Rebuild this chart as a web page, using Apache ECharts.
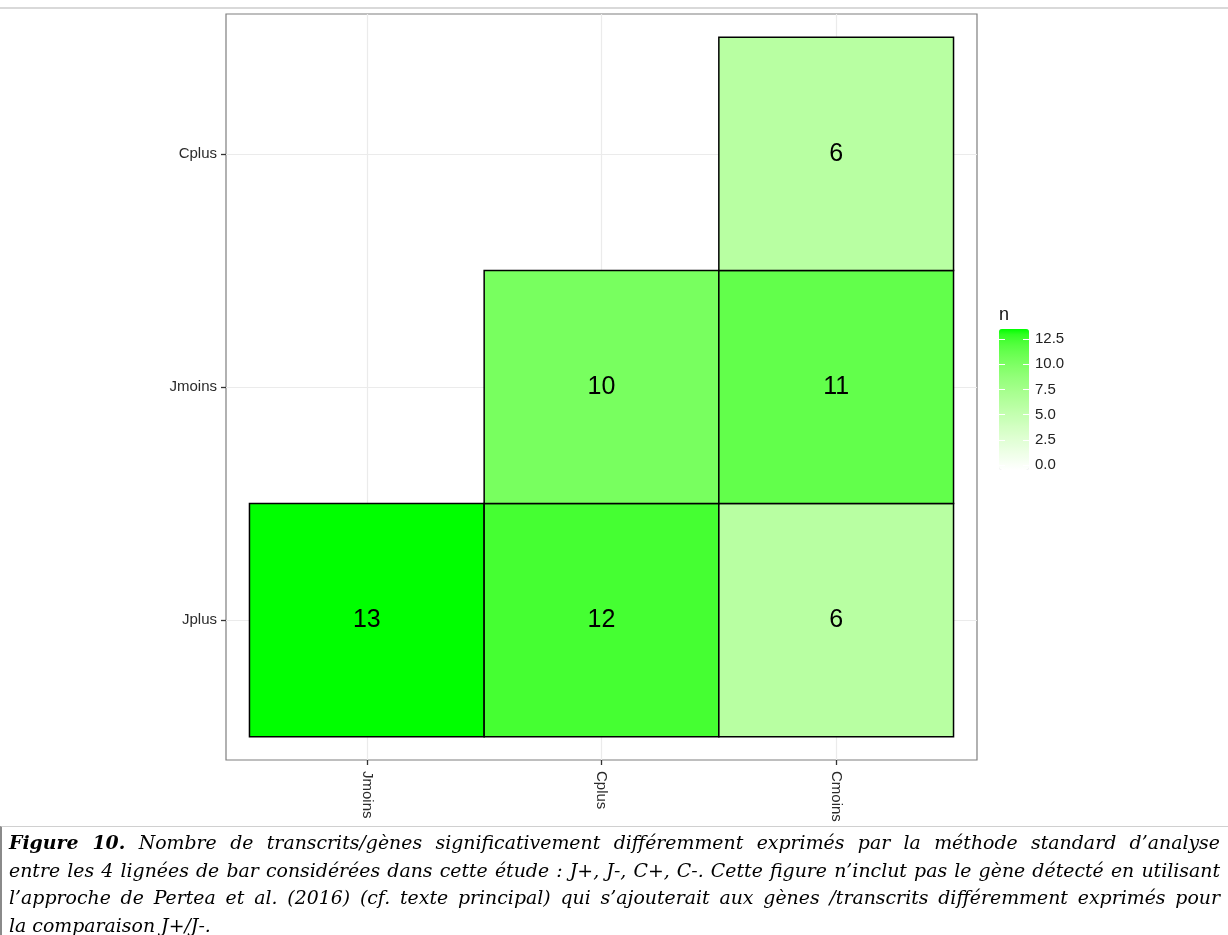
<!DOCTYPE html>
<html>
<head>
<meta charset="utf-8">
<script src="https://cdn.jsdelivr.net/npm/echarts@6/dist/echarts.min.js"></script>
<style>
html,body{margin:0;padding:0;background:#fff;}
#wrap{position:relative;width:1228px;height:935px;overflow:hidden;}
#topline{position:absolute;left:0;top:7px;width:1228px;height:2px;background:#d9d9d9;}
#chart{position:absolute;left:0;top:0;width:1228px;height:830px;}
#cap{position:absolute;left:0;top:826px;width:1228px;height:109px;border-top:1px solid #d0d0d0;border-left:2px solid #8a8a8a;box-sizing:border-box;}
#captext{position:absolute;left:7px;top:2px;width:1211px;font-family:"DejaVu Serif",serif;font-style:italic;font-size:18.9px;line-height:27.7px;color:#000;}
.l{display:block;text-align:justify;text-align-last:justify;white-space:nowrap;}
.last{display:block;text-align:left;white-space:nowrap;}
</style>
</head>
<body>
<div id="wrap">
<div id="chart"></div>
<div id="topline"></div>
<div id="cap"><div id="captext">
<span class="l"><b>Figure 10.</b> Nombre de transcrits/gènes significativement différemment exprimés par la méthode standard d’analyse</span>
<span class="l">entre les 4 lignées de bar considérées dans cette étude : J+, J-, C+, C-. Cette figure n’inclut pas le gène détecté en utilisant</span>
<span class="l">l’approche de Pertea et al. (2016) (cf. texte principal) qui s’ajouterait aux gènes /transcrits différemment exprimés pour</span>
<span class="last">la comparaison J+/J-.</span>
</div></div>
</div>
<script>
// ---- data ----
const xCats = ['Jmoins', 'Cplus', 'Cmoins'];
const yCats = ['Jplus', 'Jmoins', 'Cplus'];
const tileX = ['Jmoins', 'Cplus', 'Cmoins', 'Cplus', 'Cmoins', 'Cmoins'];
const tileY = ['Jplus', 'Jplus', 'Jplus', 'Jmoins', 'Jmoins', 'Cplus'];
const tileN = [13, 12, 6, 10, 11, 6];
const legendTicks = [0, 2.5, 5, 7.5, 10, 12.5];
const scaleMin = 0, scaleMax = 13;

// ---- Lab colour interpolation (white -> green), like ggplot2 gradient ----
function lab2hex(L, a, b) {
  const fy = (L + 16) / 116, fx = fy + a / 500, fz = fy - b / 200;
  const finv = t => (t > 6 / 29 ? t * t * t : 3 * (6 / 29) * (6 / 29) * (t - 4 / 29));
  const X = 0.95047 * finv(fx), Y = finv(fy), Z = 1.08883 * finv(fz);
  let r = 3.2406 * X - 1.5372 * Y - 0.4986 * Z;
  let g = -0.9689 * X + 1.8758 * Y + 0.0415 * Z;
  let bl = 0.0557 * X - 0.2040 * Y + 1.0570 * Z;
  const gam = c => { c = Math.min(1, Math.max(0, c)); return c <= 0.0031308 ? 12.92 * c : 1.055 * Math.pow(c, 1 / 2.4) - 0.055; };
  return '#' + [r, g, bl].map(c => Math.round(gam(c) * 255).toString(16).padStart(2, '0')).join('');
}
const lowLab = [100, 0, 0], highLab = [87.735, -86.183, 83.179];
const stops = [];
for (let i = 0; i <= 26; i++) {
  const t = i / 26;
  stops.push(lab2hex(lowLab[0] + (highLab[0] - lowLab[0]) * t, lowLab[1] + (highLab[1] - lowLab[1]) * t, lowLab[2] + (highLab[2] - lowLab[2]) * t));
}

const tileData = tileN.map((n, i) => [xCats.indexOf(tileX[i]) + 1, yCats.indexOf(tileY[i]) + 1, n]);
const pos = [1, 2, 3];
const axisFont = { fontFamily: 'Liberation Sans', fontSize: 15, color: '#2b2b2b' };

const chart = echarts.init(document.getElementById('chart'), null, { renderer: 'canvas' });
chart.setOption({
  animation: false,
  backgroundColor: '#fff',
  grid: [
    { left: 226, top: 14, width: 751, height: 746, show: true, borderColor: '#7f7f7f', borderWidth: 1.2, backgroundColor: 'transparent' },
    { left: 999, top: 334, width: 30, height: 131, show: false }
  ],
  xAxis: [
    {
      type: 'value', gridIndex: 0, min: 0.4, max: 3.6,
      axisLine: { show: false },
      axisTick: { show: true, customValues: pos, length: 5, lineStyle: { color: '#333', width: 1.3 } },
      splitLine: { show: true, lineStyle: { color: '#ebebeb', width: 1.2 } },
      axisLabel: Object.assign({ customValues: pos, rotate: -90, margin: 11, formatter: v => xCats[Math.round(v) - 1] || '' }, axisFont)
    },
    { type: 'value', gridIndex: 1, show: false, min: 0, max: 1 }
  ],
  yAxis: [
    {
      type: 'value', gridIndex: 0, min: 0.4, max: 3.6,
      axisLine: { show: false },
      axisTick: { show: true, customValues: pos, length: 5, lineStyle: { color: '#333', width: 1.3 } },
      splitLine: { show: true, lineStyle: { color: '#ebebeb', width: 1.2 } },
      axisLabel: Object.assign({ customValues: pos, margin: 9, formatter: v => yCats[Math.round(v) - 1] || '' }, axisFont)
    },
    {
      type: 'value', gridIndex: 1, position: 'left', min: scaleMin, max: scaleMax, z: 10,
      axisLine: { show: false }, splitLine: { show: false },
      axisTick: { show: true, inside: true, length: 6, customValues: legendTicks, lineStyle: { color: '#fff', width: 1 } },
      axisLabel: { show: false, customValues: legendTicks }
    },
    {
      type: 'value', gridIndex: 1, position: 'right', min: scaleMin, max: scaleMax, z: 10,
      axisLine: { show: false }, splitLine: { show: false },
      axisTick: { show: true, inside: true, length: 6, customValues: legendTicks, lineStyle: { color: '#fff', width: 1 } },
      axisLabel: { show: true, customValues: legendTicks, margin: 6, formatter: v => v.toFixed(1), fontFamily: 'Liberation Sans', fontSize: 15, color: '#222' }
    }
  ],
  visualMap: {
    type: 'continuous', min: scaleMin, max: scaleMax, dimension: 2, seriesIndex: 0,
    left: 999, top: 329, padding: 0, itemWidth: 30, itemHeight: 141, calculable: false, showLabel: false,
    text: null, hoverLink: false, z: 1,
    inRange: { color: stops }
  },
  graphic: [
    { type: 'text', left: 999, top: 306, style: { text: 'n', fontFamily: 'Liberation Sans', fontSize: 18, fill: '#111' } }
  ],
  series: [
    {
      type: 'custom', xAxisIndex: 0, yAxisIndex: 0, data: tileData,
      renderItem: function (params, api) {
        const x = api.value(0), y = api.value(1);
        const p0 = api.coord([x - 0.5, y + 0.5]);
        const p1 = api.coord([x + 0.5, y - 0.5]);
        return {
          type: 'group',
          children: [
            { type: 'rect', shape: { x: p0[0], y: p0[1], width: p1[0] - p0[0], height: p1[1] - p0[1] },
              style: { fill: api.visual('color'), stroke: '#000', lineWidth: 1.5 } },
            { type: 'text', style: { text: String(api.value(2)), x: (p0[0] + p1[0]) / 2, y: (p0[1] + p1[1]) / 2,
              align: 'center', verticalAlign: 'middle', fontFamily: 'Liberation Sans', fontSize: 25, fill: '#000' } }
          ]
        };
      }
    }
  ]
});
</script>
</body>
</html>
